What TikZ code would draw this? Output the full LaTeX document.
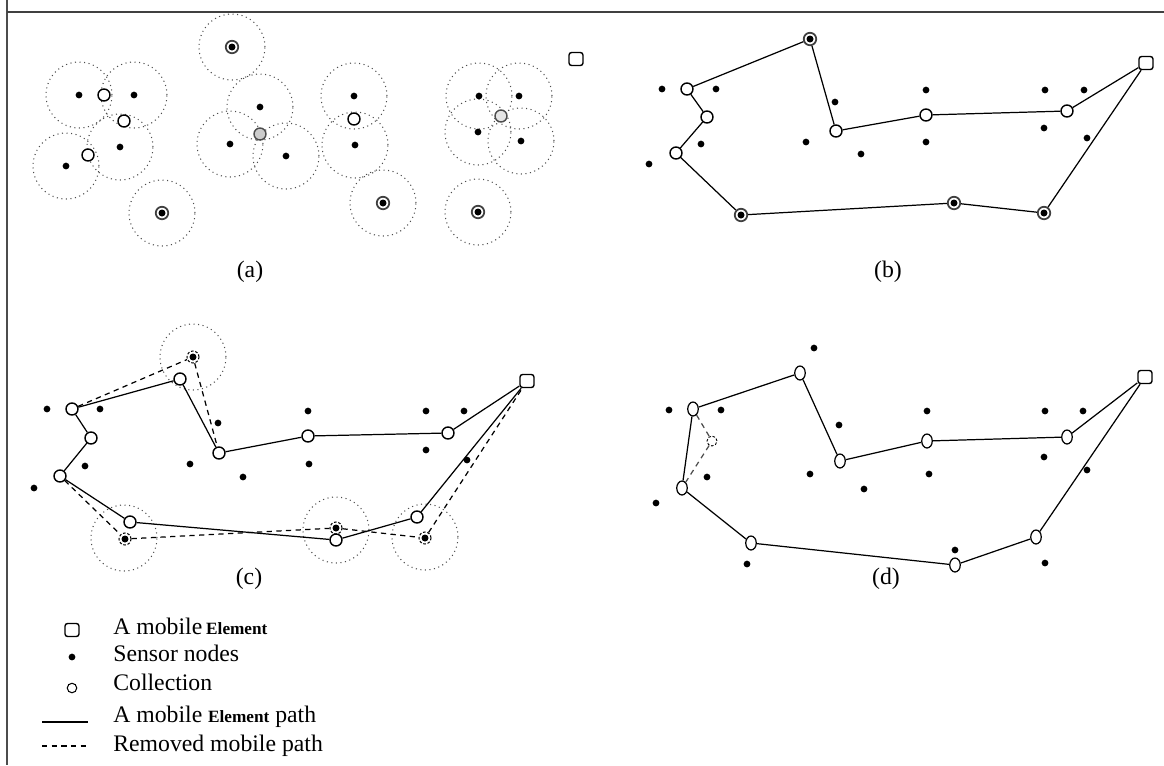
\documentclass[tikz,border=0pt]{standalone}
\usepackage{fontspec}
\setmainfont{Liberation Serif}
\usetikzlibrary{shapes.geometric}

\begin{document}
\begin{tikzpicture}[x=0.02cm,y=-0.02cm,
    sensor/.style={circle,fill=black,inner sep=0pt,minimum size=0.135cm},
    coll/.style={circle,draw,fill=white,line width=0.8pt,inner sep=0pt,minimum size=0.24cm},
    hatched/.style={coll,draw=black!70,fill=black!20},
    oval/.style={ellipse,draw,fill=white,line width=0.7pt,inner sep=0pt,minimum width=0.21cm,minimum height=0.28cm},
    visited/.style={circle,draw=black!75,fill=white,line width=1pt,inner sep=0pt,minimum size=0.25cm,
      path picture={\fill[black] (path picture bounding box.center) circle (0.07cm);}},
    removed/.style={circle,draw,dashed,dash pattern=on 1.5pt off 1pt,line width=0.6pt,inner sep=0pt,minimum size=0.24cm,
      path picture={\fill[black] (path picture bounding box.center) circle (0.07cm);}},
    gone/.style={circle,draw,dash pattern=on 1.5pt off 1pt,line width=0.5pt,inner sep=0pt,minimum size=0.2cm},
    ring/.style={circle,draw=black!70,dotted,line width=0.6pt,inner sep=0pt,minimum size=1.32cm},
    me/.style={rectangle,draw,fill=white,rounded corners=1.5pt,line width=0.8pt,inner sep=0pt,minimum width=0.28cm,minimum height=0.26cm},
    mepath/.style={line width=0.7pt},
    rmpath/.style={line width=0.7pt,dash pattern=on 3pt off 2.5pt},
    lbl/.style={font=\fontsize{13.5}{16}\selectfont}]
    \useasboundingbox (0,0) rectangle (1164,765);

    % Frame
    \draw[black!70,line width=1.2pt] (7,0) -- (7,765);
    \draw[black!75,line width=0.8pt] (7,12) -- (1164,12);

    % (a) ranges
    \node[ring] (ar1) at (232,47) {};
    \node[ring] (ar2) at (79,95) {};
    \node[ring] (ar3) at (134,95) {};
    \node[ring] (ar4) at (120,147) {};
    \node[ring] (ar5) at (66,166) {};
    \node[ring] (ar6) at (260,107) {};
    \node[ring] (ar7) at (230,144) {};
    \node[ring] (ar8) at (286,156) {};
    \node[ring] (ar9) at (354,96) {};
    \node[ring] (ar10) at (355,145) {};
    \node[ring] (ar11) at (479,96) {};
    \node[ring] (ar12) at (519,96) {};
    \node[ring] (ar13) at (478,132) {};
    \node[ring] (ar14) at (521,141) {};
    \node[ring] (ar15) at (162,213) {};
    \node[ring] (ar16) at (383,203) {};
    \node[ring] (ar17) at (478,212) {};

    % (a) sensors
    \node[visited] (as1) at (ar1) {};
    \node[sensor] (as2) at (ar2) {};
    \node[sensor] (as3) at (ar3) {};
    \node[sensor] (as4) at (ar4) {};
    \node[sensor] (as5) at (ar5) {};
    \node[sensor] (as6) at (ar6) {};
    \node[sensor] (as7) at (ar7) {};
    \node[sensor] (as8) at (ar8) {};
    \node[sensor] (as9) at (ar9) {};
    \node[sensor] (as10) at (ar10) {};
    \node[sensor] (as11) at (ar11) {};
    \node[sensor] (as12) at (ar12) {};
    \node[sensor] (as13) at (ar13) {};
    \node[sensor] (as14) at (ar14) {};
    \node[visited] (as15) at (ar15) {};
    \node[visited] (as16) at (ar16) {};
    \node[visited] (as17) at (ar17) {};

    % (a) collection points
    \node[coll] (ac1) at (104,95) {};
    \node[coll] (ac2) at (124,121) {};
    \node[coll] (ac3) at (88,155) {};
    \node[hatched] (ac4) at (260,134) {};
    \node[coll] (ac5) at (354,119) {};
    \node[hatched,fill=black!10] (ac6) at (501,116) {};
    \node[me] (am) at (576,59) {};
    \node[lbl] (la) at (250,272) {(a)};

    % (b) nodes
    \node[me] (bm) at (1146,63) {};
    \node[coll] (bc1) at (1067,111) {};
    \node[coll] (bc2) at (926,115) {};
    \node[coll] (bc3) at (836,131) {};
    \node[coll] (bc4) at (687,89) {};
    \node[coll] (bc5) at (707,117) {};
    \node[coll] (bc6) at (676,153) {};
    \node[visited] (bv1) at (810,39) {};
    \node[visited] (bv2) at (741,215) {};
    \node[visited] (bv3) at (954,203) {};
    \node[visited] (bv4) at (1044,213) {};
    \node[sensor] (bs1) at (662,89) {};
    \node[sensor] (bs2) at (716,89) {};
    \node[sensor] (bs3) at (835,102) {};
    \node[sensor] (bs4) at (926,90) {};
    \node[sensor] (bs5) at (1045,90) {};
    \node[sensor] (bs6) at (1084,90) {};
    \node[sensor] (bs7) at (701,144) {};
    \node[sensor] (bs8) at (806,142) {};
    \node[sensor] (bs9) at (861,154) {};
    \node[sensor] (bs10) at (926,142) {};
    \node[sensor] (bs11) at (1044,128) {};
    \node[sensor] (bs12) at (1087,138) {};
    \node[sensor] (bs13) at (649,164) {};
    \node[lbl] (lb) at (888,272) {(b)};

    % (b) path
    \draw[mepath] (bm) -- (bc1) -- (bc2) -- (bc3) -- (bv1) -- (bc4) -- (bc5)
      -- (bc6) -- (bv2) -- (bv3) -- (bv4) -- (bm);

    % (c) ranges and removed points
    \node[ring] (cr1r) at (193,357) {};
    \node[ring] (cr2r) at (124,538) {};
    \node[ring] (cr3r) at (336,530) {};
    \node[ring] (cr4r) at (425,537) {};
    \node[removed] (cr1) at (193,357) {};
    \node[removed] (cr2) at (125,539) {};
    \node[removed] (cr3) at (336,528) {};
    \node[removed] (cr4) at (425,538) {};

    % (c) nodes
    \node[me] (cm) at (527,381) {};
    \node[coll] (cc1) at (448,433) {};
    \node[coll] (cc2) at (308,436) {};
    \node[coll] (cc3) at (219,453) {};
    \node[coll] (cc4) at (180,379) {};
    \node[coll] (cc5) at (72,409) {};
    \node[coll] (cc6) at (91,438) {};
    \node[coll] (cc7) at (60,476) {};
    \node[coll] (cc8) at (130,522) {};
    \node[coll] (cc9) at (336,540) {};
    \node[coll] (cc10) at (417,517) {};
    \node[sensor] (cs1) at (47,409) {};
    \node[sensor] (cs2) at (100,409) {};
    \node[sensor] (cs3) at (218,423) {};
    \node[sensor] (cs4) at (308,411) {};
    \node[sensor] (cs5) at (426,411) {};
    \node[sensor] (cs6) at (464,411) {};
    \node[sensor] (cs7) at (426,450) {};
    \node[sensor] (cs8) at (467,460) {};
    \node[sensor] (cs9) at (85,466) {};
    \node[sensor] (cs10) at (190,464) {};
    \node[sensor] (cs11) at (309,464) {};
    \node[sensor] (cs12) at (243,477) {};
    \node[sensor] (cs13) at (34,488) {};
    \node[lbl] (lc) at (249,579) {(c)};

    % (c) paths
    \draw[rmpath] (cc5) -- (cr1) -- (cc3);
    \draw[rmpath] (cc7) -- (cr2) -- (cr3) -- (cr4) -- (cm);
    \draw[mepath] (cm) -- (cc1) -- (cc2) -- (cc3) -- (cc4) -- (cc5) -- (cc6)
      -- (cc7) -- (cc8) -- (cc9) -- (cc10) -- (cm);

    % (d) nodes
    \node[me] (dm) at (1145,377) {};
    \node[oval] (dc1) at (1067,437) {};
    \node[oval] (dc2) at (927,441) {};
    \node[oval] (dc3) at (840,461) {};
    \node[oval] (dc4) at (800,373) {};
    \node[oval] (dc5) at (693,409) {};
    \node[oval] (dc6) at (682,488) {};
    \node[oval] (dc7) at (751,543) {};
    \node[oval] (dc8) at (955,565) {};
    \node[oval] (dc9) at (1036,537) {};
    \node[gone] (dx) at (712,441) {};
    \node[sensor] (ds1) at (814,348) {};
    \node[sensor] (ds2) at (669,410) {};
    \node[sensor] (ds3) at (721,410) {};
    \node[sensor] (ds4) at (839,425) {};
    \node[sensor] (ds5) at (927,411) {};
    \node[sensor] (ds6) at (1045,411) {};
    \node[sensor] (ds7) at (1083,411) {};
    \node[sensor] (ds8) at (1044,457) {};
    \node[sensor] (ds9) at (1087,470) {};
    \node[sensor] (ds10) at (707,477) {};
    \node[sensor] (ds11) at (810,474) {};
    \node[sensor] (ds12) at (929,474) {};
    \node[sensor] (ds13) at (864,489) {};
    \node[sensor] (ds14) at (656,503) {};
    \node[sensor] (ds15) at (955,550) {};
    \node[sensor] (ds16) at (747,564) {};
    \node[sensor] (ds17) at (1045,563) {};
    \node[lbl] (ld) at (886,579) {(d)};

    % (d) paths
    \draw[rmpath,black!70] (dc5) -- (dx) -- (dc6);
    \draw[mepath] (dm) -- (dc1) -- (dc2) -- (dc3) -- (dc4) -- (dc5) -- (dc6)
      -- (dc7) -- (dc8) -- (dc9) -- (dm);

    % Legend
    \node[me] (kme) at (72,630) {};
    \node[sensor] (ksn) at (72,657) {};
    \node[coll,line width=0.6pt,minimum size=0.19cm] (kcol) at (72,688) {};
    \coordinate (kp1) at (42,722);
    \coordinate (kp2) at (88,722);
    \coordinate (kr1) at (42,746);
    \coordinate (kr2) at (88,746);
    \draw[mepath] (kp1) -- (kp2);
    \draw[rmpath] (kr1) -- (kr2);
    \node[lbl,anchor=base west,inner sep=0pt] (tme) at (113,634) {A mobile\,{\fontsize{9.8}{11}\selectfont\bfseries Element}};
    \node[lbl,anchor=base west,inner sep=0pt] (tsn) at (113,661) {Sensor nodes};
    \node[lbl,anchor=base west,inner sep=0pt] (tcol) at (113,690) {Collection};
    \node[lbl,anchor=base west,inner sep=0pt] (tpath) at (113,722) {A mobile {\fontsize{9.8}{11}\selectfont\bfseries Element} path};
    \node[lbl,anchor=base west,inner sep=0pt] (trm) at (113,751) {Removed mobile path};
  \end{tikzpicture}
\end{document}
